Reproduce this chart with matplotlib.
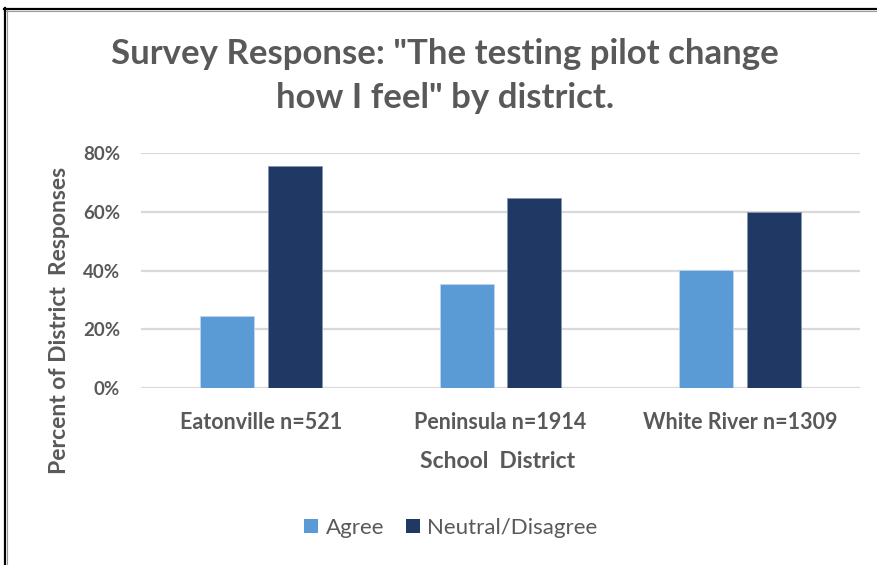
import matplotlib
matplotlib.use("Agg")
import matplotlib.pyplot as plt
from matplotlib.lines import Line2D
from matplotlib.patches import Patch
from matplotlib.ticker import FuncFormatter
import numpy as np

categories = ["Eatonville n=521", "Peninsula n=1914", "White River n=1309"]
agree = [24.5, 35.4, 40.1]
neutral = [75.5, 64.6, 59.9]
series_names = ["Agree", "Neutral/Disagree"]
yticks = [0, 20, 40, 60, 80]

FAM = ["Lato", "DejaVu Sans"]
GREY = "#595959"
C_AGREE = "#5B9BD5"
C_NEUT = "#203864"

W, H = 877, 565
fig = plt.figure(figsize=(W / 100, H / 100), dpi=100)
fig.patch.set_facecolor("white")

ax = fig.add_axes([141 / W, 1 - 388 / H, (860 - 141) / W, (388 - 153) / H])
x = np.arange(len(categories))
bw = 0.225
off = (bw + 14 / 240) / 2
ax.bar(x - off, agree, bw, color=C_AGREE, edgecolor="#BDD7EE", linewidth=0.6, zorder=3)
ax.bar(x + off, neutral, bw, color=C_NEUT, edgecolor="#8497B0", linewidth=0.6, zorder=3)
ax.set_xlim(-0.5, 2.5)
ax.set_ylim(0, 80)
ax.set_yticks(yticks)
ax.yaxis.set_major_formatter(FuncFormatter(lambda v, p: f"{int(v)}%"))
ax.grid(axis="y", color="#D9D9D9", linewidth=1.6, zorder=0)
ax.set_axisbelow(True)
for s in ax.spines.values():
    s.set_visible(False)
ax.tick_params(axis="both", length=0)
ax.tick_params(axis="y", pad=15)
ax.tick_params(axis="x", pad=17)
ax.set_xticks(x)
ax.set_xticklabels(categories)
for lab in ax.get_yticklabels():
    lab.set_fontfamily(FAM); lab.set_fontsize(13.5); lab.set_fontweight("bold"); lab.set_color(GREY)
for lab in ax.get_xticklabels():
    lab.set_fontfamily(FAM); lab.set_fontsize(15.5); lab.set_fontweight("bold"); lab.set_color(GREY)

fig.text(498 / W, 1 - 461 / H, "School  District", ha="center", va="center",
         family=FAM, fontsize=16.5, fontweight="bold", color=GREY)
fig.text(60 / W, 1 - 320 / H, "Percent of District  Responses", ha="center", va="center",
         rotation=90, family=FAM, fontsize=16.5, fontweight="bold", color=GREY)
fig.text(445 / W, 1 - 76 / H, "Survey Response: \"The testing pilot change\nhow I feel\" by district.",
         ha="center", va="center", family=FAM, fontsize=25, fontweight="bold", color=GREY,
         linespacing=1.45)

handles = [Patch(facecolor=C_AGREE), Patch(facecolor=C_NEUT)]
leg = fig.legend(handles, series_names, loc="center", bbox_to_anchor=(451 / W, 1 - 528 / H),
                 ncol=2, frameon=False, handlelength=0.6, handleheight=0.6, handletextpad=0.35,
                 columnspacing=1.0, prop={"family": FAM, "size": 16})
for t in leg.get_texts():
    t.set_color(GREY)

fig.add_artist(Line2D([4 / W, 1], [1 - 8.5 / H, 1 - 8.5 / H], transform=fig.transFigure, color="black", linewidth=1.6))
fig.add_artist(Line2D([5 / W, 5 / W], [0, 1 - 8 / H], transform=fig.transFigure, color="black", linewidth=1.6))
fig.add_artist(Line2D([6 / W, 1], [1 - 10.5 / H, 1 - 10.5 / H], transform=fig.transFigure, color="#9A9A9A", linewidth=0.8))
fig.add_artist(Line2D([7 / W, 7 / W], [0, 1 - 10 / H], transform=fig.transFigure, color="#9A9A9A", linewidth=0.8))

fig.savefig("out.png", dpi=100)
